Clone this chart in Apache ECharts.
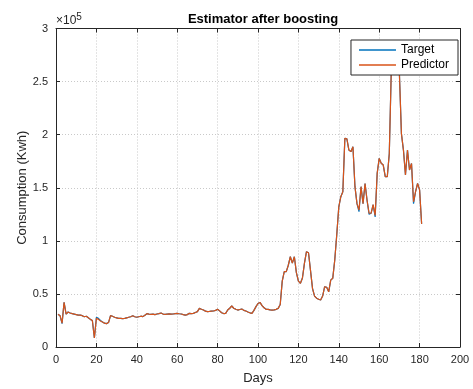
<!DOCTYPE html>
<html>
<head>
<meta charset="utf-8">
<script src="https://cdn.jsdelivr.net/npm/echarts@6/dist/echarts.min.js"></script>
<style>html,body{margin:0;padding:0;background:#fff}#c{width:473px;height:389px}</style>
</head>
<body>
<div id="c"></div>
<script>
const title = 'Estimator after boosting';
const xName = 'Days';
const yName = 'Consumption (Kwh)';
const seriesNames = ['Target', 'Predictor'];

const predictor = [
30800,29500,22500,42000,31000,33000,32000,31500,31000,30500,
30000,30000,29500,28500,29000,27500,26000,25000,8500,27000,
26000,24500,23500,22500,22000,23000,29500,29000,28000,27500,
27000,27000,26800,27000,27500,28000,28500,29500,28500,28000,
28500,29000,28600,30000,31400,31000,30800,31000,30500,31100,
31500,32000,31000,30800,31000,31200,31000,31100,31500,31700,
31300,31100,30500,30100,30500,31700,31500,31700,32500,33300,
36400,35500,34800,33800,33300,33500,33800,33900,34500,35500,
34000,32300,31500,31700,34800,36500,38600,36500,35500,34800,
35300,35800,34500,33900,33000,32200,31700,34500,38000,41000,
42000,39000,37000,35500,35500,35000,34800,35000,35500,36400,
40000,62000,71000,71000,77000,85000,79000,85000,70000,62000,
60000,65000,79000,89800,88800,72000,55000,48000,46000,45000,
44300,48000,56800,56200,52000,63000,64700,82000,106000,132000,
141600,146300,196500,196000,185500,184000,188600,151000,135000,129000,
151000,135000,154000,138000,126000,126000,134000,124000,163500,177600,
173000,171400,160400,160400,182300,262000,275000,272000,276000,257700,
201000,185500,162000,185500,166700,172900,136800,146300,154000,148000,
116000
];

const target = [
30800,29500,22000,42000,31000,33000,32000,31500,31000,30500,
30000,30000,29500,28500,29000,27500,26000,25000,8500,28000,
27000,25000,23500,22500,22000,23000,29500,29000,28000,27500,
27000,27000,26800,27000,27500,28000,28500,29500,28500,28000,
28500,29000,28600,30000,31400,31000,30800,31000,30500,31100,
31500,32000,31000,30800,31000,31200,31000,31100,31500,31700,
31300,31100,30500,30100,30500,31700,31500,31700,32500,33300,
36400,35500,34800,33800,33300,33500,33800,33900,34500,35500,
34000,32300,31500,31700,34800,36500,38600,36500,35500,34800,
35300,35800,34500,33900,33000,32200,31700,34500,38000,41000,
42000,39000,37000,35500,35500,35000,34800,35000,35500,36400,
40000,62000,71000,71000,77000,85000,79000,85000,70000,62000,
60000,65000,79000,89800,88800,72000,55000,48000,46000,45000,
44300,48000,56800,56200,52000,63000,64700,82000,106000,132000,
141600,146300,196500,196000,185500,184000,188600,151000,135000,127500,
151000,135000,154000,138000,125000,126000,134000,122500,163500,177600,
173000,171400,160400,160400,182300,262000,275000,272000,276000,257700,
201000,185500,162000,185500,166700,172900,135000,146300,154000,148000,
116000
];

const days = predictor.map((_, i) => i + 1);
const xTicks = { min: 0, max: 200, interval: 20 };
const yTicks = { min: 0, max: 300000, interval: 50000 };

const axisColor = '#262626';
const font = 'Liberation Sans, Arial, Helvetica, sans-serif';

const chart = echarts.init(document.getElementById('c'), null, { renderer: 'canvas' });

const gridLine = { show: true, lineStyle: { color: '#c9c9c9', type: [1, 2], width: 1 } };

chart.setOption({
  animation: false,
  backgroundColor: '#fff',
  title: {
    text: title, left: 258, top: 8, textAlign: 'center',
    textStyle: { fontFamily: font, fontSize: 13, fontWeight: 'bold', color: '#000' }
  },
  grid: { left: 56, right: 13, top: 28.5, bottom: 42, containLabel: false, outerBoundsMode: 'none' },
  legend: {
    data: seriesNames.map(n => ({ name: n, icon: 'rect' })),
    orient: 'vertical', right: 15, top: 40, z: 20,
    backgroundColor: '#fff', borderColor: axisColor, borderWidth: 1,
    padding: [3, 9, 3, 8], itemGap: 1, itemWidth: 37, itemHeight: 1.6,
    textStyle: { fontFamily: font, fontSize: 12, color: '#000', lineHeight: 14 }
  },
  graphic: [{
    type: 'text', left: 56, top: 12, z: 10,
    style: {
      text: '×10{s|5}', fill: axisColor, font: '12px ' + font,
      rich: { s: { fontSize: 10, verticalAlign: 'top', padding: [0, 0, 7, 0], fill: axisColor, fontFamily: font } }
    }
  }],
  xAxis: [{
    type: 'value', min: xTicks.min, max: xTicks.max, interval: xTicks.interval,
    name: xName, nameLocation: 'middle', nameGap: 25, nameMoveOverlap: false,
    nameTextStyle: { fontFamily: font, fontSize: 13, color: axisColor },
    axisLine: { show: true, onZero: false, lineStyle: { color: axisColor, width: 1 } },
    axisTick: { show: true, inside: true, length: 4, lineStyle: { color: axisColor } },
    axisLabel: { margin: 7, fontFamily: font, fontSize: 11, color: axisColor },
    splitLine: gridLine
  }, {
    type: 'value', position: 'top', min: xTicks.min, max: xTicks.max, interval: xTicks.interval,
    axisLine: { show: true, onZero: false, lineStyle: { color: axisColor, width: 1 } },
    axisTick: { show: true, inside: true, length: 4, lineStyle: { color: axisColor } },
    axisLabel: { show: false }, splitLine: { show: false }
  }],
  yAxis: [{
    type: 'value', min: yTicks.min, max: yTicks.max, interval: yTicks.interval,
    name: yName, nameLocation: 'middle', nameGap: 27, nameMoveOverlap: false,
    nameTextStyle: { fontFamily: font, fontSize: 13, color: axisColor },
    axisLine: { show: true, onZero: false, lineStyle: { color: axisColor, width: 1 } },
    axisTick: { show: true, inside: true, length: 4, lineStyle: { color: axisColor } },
    axisLabel: { margin: 8, fontFamily: font, fontSize: 11, color: axisColor,
      formatter: v => String(v / 100000) },
    splitLine: gridLine
  }, {
    type: 'value', position: 'right', min: yTicks.min, max: yTicks.max, interval: yTicks.interval,
    axisLine: { show: true, onZero: false, lineStyle: { color: axisColor, width: 1 } },
    axisTick: { show: true, inside: true, length: 4, lineStyle: { color: axisColor } },
    axisLabel: { show: false }, splitLine: { show: false }
  }],
  series: [{
    name: seriesNames[0], type: 'line', symbol: 'none', showSymbol: false,
    data: days.map((d, i) => [d, target[i]]),
    lineStyle: { color: '#0072BD', width: 1.2 }, itemStyle: { color: '#0072BD' }, z: 2
  }, {
    name: seriesNames[1], type: 'line', symbol: 'none', showSymbol: false,
    data: days.map((d, i) => [d, predictor[i]]),
    lineStyle: { color: '#D95319', width: 1.2 }, itemStyle: { color: '#D95319' }, z: 3
  }]
});
</script>
</body>
</html>
